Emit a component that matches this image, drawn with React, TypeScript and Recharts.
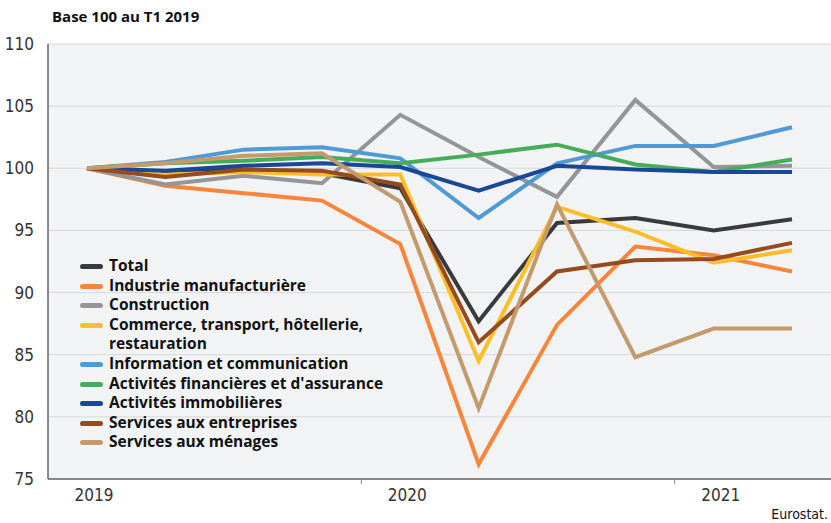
import { CartesianGrid, Line, LineChart, XAxis, YAxis } from 'recharts';

const quarters = ['2019T1', '2019T2', '2019T3', '2019T4', '2020T1', '2020T2', '2020T3', '2020T4', '2021T1', '2021T2'];

const total = [100, 99.6, 99.9, 99.6, 98.4, 87.7, 95.6, 96.0, 95.0, 95.9];
const industrie = [100, 98.6, 98.0, 97.4, 93.9, 76.2, 87.4, 93.7, 93.0, 91.7];
const construction = [100, 98.7, 99.4, 98.8, 104.3, 100.9, 97.7, 105.5, 100.1, 100.2];
const commerce = [100, 99.5, 99.7, 99.5, 99.5, 84.5, 96.9, 94.9, 92.4, 93.4];
const information = [100, 100.5, 101.5, 101.7, 100.8, 96.0, 100.4, 101.8, 101.8, 103.3];
const financieres = [100, 100.4, 100.6, 100.9, 100.4, 101.1, 101.9, 100.3, 99.7, 100.7];
const immobilieres = [100, 99.8, 100.2, 100.4, 100.1, 98.2, 100.2, 99.9, 99.7, 99.7];
const entreprises = [100, 99.3, 99.9, 99.8, 98.7, 86.0, 91.7, 92.6, 92.7, 94.0];
const menages = [100, 100.4, 101.0, 101.2, 97.3, 80.7, 97.1, 84.8, 87.1, 87.1];

const yTicks = [75, 80, 85, 90, 95, 100, 105, 110];

const series = [
  { key: 'total', name: 'Total', color: '#3a3a3a', values: total },
  { key: 'industrie', name: 'Industrie manufacturière', color: '#f5863b', values: industrie },
  { key: 'construction', name: 'Construction', color: '#959595', values: construction },
  { key: 'commerce', name: 'Commerce, transport, hôtellerie,\nrestauration', color: '#fdbe2a', values: commerce },
  { key: 'information', name: 'Information et communication', color: '#4f9ad6', values: information },
  { key: 'financieres', name: "Activités financières et d'assurance", color: '#45ad5a', values: financieres },
  { key: 'immobilieres', name: 'Activités immobilières', color: '#1a4898', values: immobilieres },
  { key: 'entreprises', name: 'Services aux entreprises', color: '#954b1e', values: entreprises },
  { key: 'menages', name: 'Services aux ménages', color: '#c49a6c', values: menages },
];

const data = quarters.map((q, i) => {
  const row: Record<string, string | number> = { q };
  series.forEach((s) => (row[s.key] = s.values[i]));
  return row;
});

const AXIS_FONT = "'Liberation Sans Narrow', 'DejaVu Sans Condensed', 'Open Sans', sans-serif";
const BOLD_FONT = "'Open Sans', 'Noto Sans', sans-serif";

function YearTick({ x, y, payload }: any) {
  const v = String(payload.value);
  if (!v.endsWith('T1')) return null;
  const year = v.slice(0, 4);
  return (
    <g>
      {year !== '2019' && <line x1={x - 39} x2={x - 39} y1={y - 8} y2={y - 3} stroke="#888" />}
      <text x={x + 7} y={y + 14} textAnchor="middle" fontSize={17} fontFamily={AXIS_FONT} fill="#333">
        {year}
      </text>
    </g>
  );
}

// legend drawn over the plot, bottom-left
function LegendBox() {
  return (
    <div
      style={{
        position: 'absolute',
        left: 80,
        top: 256,
        fontFamily: BOLD_FONT,
        fontWeight: 700,
        fontSize: 15.5,
        color: '#111',
        lineHeight: '19.6px',
      }}
    >
      {series.map((s) => (
        <div key={s.key} style={{ display: 'flex', alignItems: 'flex-start' }}>
          <span
            style={{
              display: 'inline-block',
              width: 23,
              height: 5,
              borderRadius: 3,
              background: s.color,
              marginTop: 8,
              marginRight: 6,
              flexShrink: 0,
            }}
          />
          <span style={{ whiteSpace: 'pre' }}>{s.name}</span>
        </div>
      ))}
    </div>
  );
}

export default function App() {
  return (
    <div style={{ position: 'absolute', left: 0, top: 0, width: 831, height: 523, background: '#fff' }}>
      <div
        style={{
          position: 'absolute',
          left: 52,
          top: 6,
          fontFamily: BOLD_FONT,
          fontWeight: 700,
          fontSize: 15,
          color: '#111',
        }}
      >
        Base 100 au T1 2019
      </div>
      <LineChart width={831} height={523} data={data} margin={{ top: 44, right: 0, bottom: 14, left: 0 }}>
        <CartesianGrid vertical={false} stroke="#d9d9d9" fill="#f2f3f5" />
        <XAxis
          dataKey="q"
          interval={0}
          padding={{ left: 39, right: 39 }}
          tickLine={false}
          axisLine={{ stroke: '#666', strokeWidth: 1.5 }}
          tick={<YearTick />}
          height={30}
        />
        <YAxis
          domain={[75, 110]}
          ticks={yTicks}
          width={48}
          tickLine={false}
          axisLine={{ stroke: '#666', strokeWidth: 1.5 }}
          tick={{ fontSize: 17, fontFamily: AXIS_FONT, fill: '#333' }}
          tickMargin={8}
        />
        {series.map((s) => (
          <Line
            key={s.key}
            type="linear"
            dataKey={s.key}
            name={s.name}
            stroke={s.color}
            strokeWidth={4}
            dot={false}
            isAnimationActive={false}
          />
        ))}
      </LineChart>
      <LegendBox />
      <div
        style={{
          position: 'absolute',
          right: 3,
          top: 506,
          fontFamily: AXIS_FONT,
          fontSize: 14,
          lineHeight: '16px',
          color: '#111',
        }}
      >
        Eurostat.
      </div>
    </div>
  );
}
